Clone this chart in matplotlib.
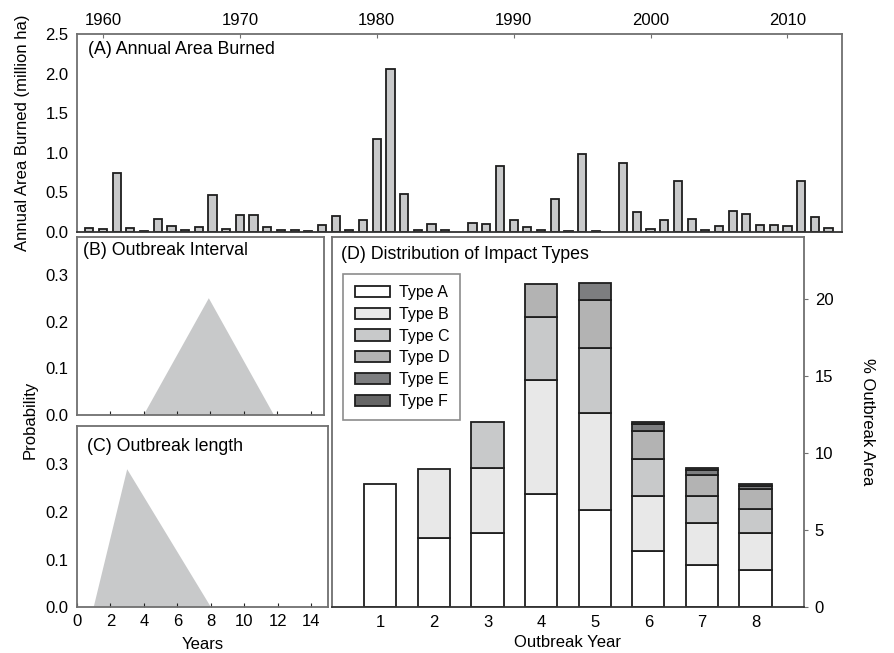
import numpy as np
import matplotlib
matplotlib.use("Agg")
import matplotlib.pyplot as plt

plt.rcParams['font.family'] = ['Liberation Sans', 'DejaVu Sans']

# ---- Data ----
years = list(range(1959, 2014))
area_burned = [0.055, 0.04, 0.75, 0.055, 0.015, 0.17, 0.07, 0.03, 0.063, 0.47,
               0.035, 0.21, 0.21, 0.06, 0.03, 0.02, 0.015, 0.085, 0.205, 0.03,
               0.15, 1.18, 2.06, 0.48, 0.03, 0.10, 0.025, 0.0, 0.11, 0.097,
               0.83, 0.15, 0.063, 0.025, 0.416, 0.01, 0.98, 0.015, 0.0, 0.87,
               0.25, 0.034, 0.155, 0.65, 0.17, 0.03, 0.07, 0.27, 0.23, 0.088,
               0.088, 0.07, 0.65, 0.19, 0.05]
top_ticks = [1960, 1970, 1980, 1990, 2000, 2010]

interval_x = [4.0, 7.9, 11.8]
interval_p = [0.0, 0.25, 0.0]
length_x = [1.0, 3.0, 8.0]
length_p = [0.0, 0.29, 0.0]

outbreak_years = [1, 2, 3, 4, 5, 6, 7, 8]
type_names = ['Type A', 'Type B', 'Type C', 'Type D', 'Type E', 'Type F']
type_A = [8.0, 4.46, 4.79, 7.35, 6.28, 3.62, 2.71, 2.38]
type_B = [0.0, 4.49, 4.21, 7.35, 6.31, 3.60, 2.71, 2.43]
type_C = [0.0, 0.0, 3.00, 4.13, 4.22, 2.38, 1.80, 1.58]
type_D = [0.0, 0.0, 0.0, 2.15, 3.12, 1.80, 1.34, 1.24]
type_E = [0.0, 0.0, 0.0, 0.0, 1.07, 0.45, 0.32, 0.24]
type_F = [0.0, 0.0, 0.0, 0.0, 0.0, 0.15, 0.12, 0.13]
type_colors = ['#ffffff', '#e8e8e8', '#c8c9ca', '#b3b3b3', '#7d7e80', '#666666']

spine_col = '#707070'
edge_col = '#1e1e1e'
TICK = 12
TITLE = 12.8
LAB = 12

fig = plt.figure(figsize=(8.95, 6.53), dpi=100)

def style_spines(ax, color=spine_col, lw=1.3):
    for s in ax.spines.values():
        s.set_color(color)
        s.set_linewidth(lw)

# ---- Panel A ----
axA = fig.add_axes([0.086, 0.6447, 0.855, 0.3033])
yrs = np.array(years)
ab = np.array(area_burned)
m = ab > 0
axA.bar(yrs[m], ab[m], width=0.6, color='#c8c9ca', edgecolor=edge_col, linewidth=1.3)
axA.set_xlim(1958.1, 2014.0)
axA.set_ylim(0, 2.5)
axA.xaxis.tick_top()
axA.set_xticks(top_ticks)
axA.set_yticks([0.0, 0.5, 1.0, 1.5, 2.0, 2.5])
axA.set_yticklabels(['0.0', '0.5', '1.0', '1.5', '2.0', '2.5'])
axA.tick_params(axis='x', direction='in', length=3, labelsize=TICK, color=spine_col, pad=4)
axA.tick_params(axis='y', direction='in', length=0, labelsize=TICK, pad=6)
style_spines(axA)
axA.spines['bottom'].set_color('#333333')
axA.set_ylabel('Annual Area Burned (million ha)', fontsize=LAB, labelpad=11)
axA.text(0.015, 0.965, '(A) Annual Area Burned', transform=axA.transAxes,
         fontsize=TITLE, va='top', ha='left')

# ---- Panel B ----
axB = fig.add_axes([0.086, 0.3645, 0.276, 0.2725])
axB.fill(interval_x, interval_p, color='#c8c9ca', linewidth=0)
axB.set_xlim(0, 14.8)
axB.set_ylim(0, 0.381)
axB.set_xticks([2, 4, 6, 8, 10, 12, 14])
axB.set_xticklabels([])
axB.set_yticks([0.0, 0.1, 0.2, 0.3])
axB.set_yticklabels(['0.0', '0.1', '0.2', '0.3'])
axB.tick_params(axis='x', direction='in', length=3, color='#222222')
axB.tick_params(axis='y', direction='in', length=0, labelsize=TICK, pad=6)
style_spines(axB)
axB.text(0.025, 0.97, '(B) Outbreak Interval', transform=axB.transAxes,
         fontsize=TITLE, va='top', ha='left')

# ---- Panel C ----
axC = fig.add_axes([0.086, 0.0704, 0.2805, 0.2772])
axC.fill(length_x, length_p, color='#c8c9ca', linewidth=0)
axC.set_xlim(0, 15.0)
axC.set_ylim(0, 0.381)
axC.set_xticks([0, 2, 4, 6, 8, 10, 12, 14])
axC.set_yticks([0.0, 0.1, 0.2, 0.3])
axC.set_yticklabels(['0.0', '0.1', '0.2', '0.3'])
axC.tick_params(axis='x', direction='in', length=3, labelsize=TICK, color='#222222', pad=5)
axC.tick_params(axis='y', direction='in', length=0, labelsize=TICK, pad=6)
style_spines(axC)
axC.text(0.04, 0.935, '(C) Outbreak length', transform=axC.transAxes,
         fontsize=TITLE, va='top', ha='left')
axC.set_xlabel('Years', fontsize=LAB, labelpad=6)

fig.text(0.034, 0.357, 'Probability', rotation=90, fontsize=LAB, ha='center', va='center')

# ---- Panel D ----
axD = fig.add_axes([0.371, 0.0704, 0.527, 0.5666])
series = [type_A, type_B, type_C, type_D, type_E, type_F]
x = np.array(outbreak_years)
bottom = np.zeros(len(x))
for name, vals, col in zip(type_names, series, type_colors):
    v = np.array(vals)
    mm = v > 0
    axD.bar(x[mm], v[mm], bottom=bottom[mm], width=0.6, color=col,
            edgecolor=edge_col, linewidth=1.3, label=name)
    bottom = bottom + v
axD.set_xlim(0.1, 8.9)
axD.set_ylim(0, 24)
axD.set_xticks(outbreak_years)
axD.yaxis.tick_right()
axD.yaxis.set_label_position('right')
axD.set_yticks([0, 5, 10, 15, 20])
axD.tick_params(axis='x', length=0, labelsize=TICK, pad=6)
axD.tick_params(axis='y', direction='out', length=3, labelsize=TICK, color=spine_col, pad=5)
style_spines(axD)
axD.spines['bottom'].set_color('#333333')
axD.set_xlabel('Outbreak Year', fontsize=LAB, labelpad=3)
axD.set_ylabel('% Outbreak Area', fontsize=LAB, rotation=270, labelpad=30)
axD.text(0.02, 0.975, '(D) Distribution of Impact Types', transform=axD.transAxes,
         fontsize=TITLE, va='top', ha='left')
leg = axD.legend(loc='upper left', bbox_to_anchor=(0.024, 0.9), frameon=True,
                 fancybox=False, edgecolor=spine_col, fontsize=11.5,
                 handlelength=2.2, handleheight=0.7, labelspacing=0.42,
                 borderpad=0.7, handletextpad=0.56, borderaxespad=0)
leg.get_frame().set_linewidth(1.2)

fig.savefig('out.png', dpi=100)
